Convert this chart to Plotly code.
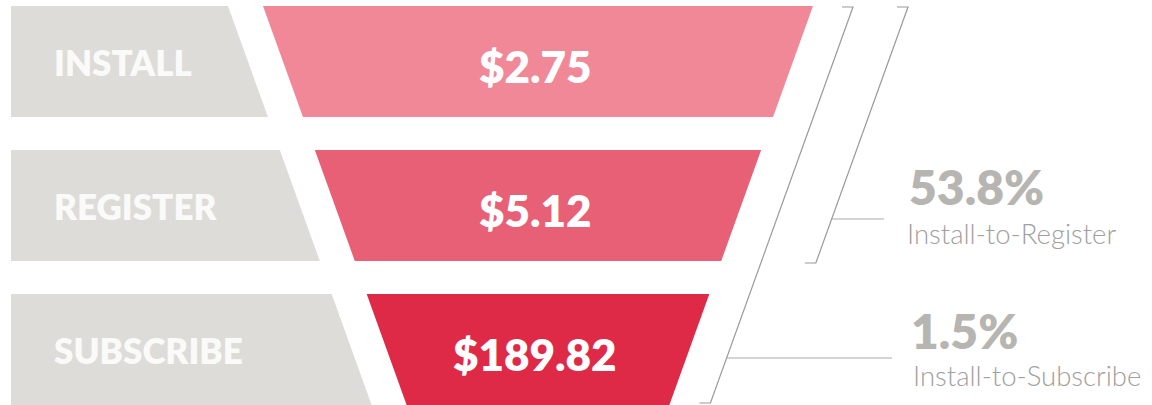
import plotly.graph_objects as go

# ---- data ----
stages = ["INSTALL", "REGISTER", "SUBSCRIBE"]
cost_per_action = [2.75, 5.12, 189.82]
conversion_names = ["Install-to-Register", "Install-to-Subscribe"]
conversion_rates = [53.8, 1.5]

# ---- style / geometry ----
W, H = 1152, 405
stage_colors = ["#F08898", "#E86075", "#DF2A47"]
label_bg = "#DEDCD9"
bracket_color = "#9A9A9A"
pct_color = "#B7B5B2"
desc_color = "#A0A0A0"
FONT = "Lato"

ROW_Y0 = 6
ROW_PITCH = 144
ROW_H = 111
SLOPE = 0.36          # horizontal shift per pixel of height
LABEL_LEFT = 11
LABEL_RIGHT0 = 228
FUNNEL_LEFT0 = 263
FUNNEL_RIGHT0 = 813

fig = go.Figure()


def edge(x0, y, sign):
    return x0 + sign * SLOPE * (y - ROW_Y0)


annotations = []
for i, (stage, cost, col) in enumerate(zip(stages, cost_per_action, stage_colors)):
    top = ROW_Y0 + i * ROW_PITCH
    bot = top + ROW_H
    # grey label box with slanted right edge
    fig.add_trace(go.Scatter(
        x=[LABEL_LEFT, edge(LABEL_RIGHT0, top, 1), edge(LABEL_RIGHT0, bot, 1), LABEL_LEFT, LABEL_LEFT],
        y=[top, top, bot, bot, top],
        fill="toself", fillcolor=label_bg, mode="lines", line=dict(width=0),
        hoverinfo="skip", showlegend=False))
    # funnel trapezoid
    fig.add_trace(go.Scatter(
        x=[edge(FUNNEL_LEFT0, top, 1), edge(FUNNEL_RIGHT0, top, -1),
           edge(FUNNEL_RIGHT0, bot, -1), edge(FUNNEL_LEFT0, bot, 1), edge(FUNNEL_LEFT0, top, 1)],
        y=[top, top, bot, bot, top],
        fill="toself", fillcolor=col, mode="lines", line=dict(width=0),
        hoverinfo="skip", showlegend=False))
    mid = top + ROW_H / 2
    annotations.append(dict(
        x=52, y=mid, xref="x", yref="y", xanchor="left", yanchor="middle",
        text=stage, showarrow=False,
        font=dict(family=FONT, size=35, color="#FAFAF8", weight=800)))
    cx = (edge(FUNNEL_LEFT0, mid, 1) + edge(FUNNEL_RIGHT0, mid, -1)) / 2
    annotations.append(dict(
        x=cx - 3, y=mid + 4, xref="x", yref="y", xanchor="center", yanchor="middle",
        text=f"${cost:,.2f}", showarrow=False,
        font=dict(family=FONT, size=44, color="white", weight=800)))

# ---- brackets ----
BR_TOP = 7
BR_SLOPE = 0.36
brackets = [
    dict(x_top=908, y_bot=263, y_tick=219, x_tick_end=884, pct_y=186, desc_y=233, text_x=907, desc_x=905),
    dict(x_top=853, y_bot=403, y_tick=358, x_tick_end=892, pct_y=330, desc_y=375, text_x=909, desc_x=911),
]
for b, name, rate in zip(brackets, conversion_names, conversion_rates):
    xb = b["x_top"] - BR_SLOPE * (b["y_bot"] - BR_TOP)
    fig.add_trace(go.Scatter(
        x=[b["x_top"] - 11, b["x_top"], xb, xb - 11],
        y=[BR_TOP, BR_TOP, b["y_bot"], b["y_bot"]],
        mode="lines", line=dict(color=bracket_color, width=1.2),
        hoverinfo="skip", showlegend=False))
    xt = b["x_top"] - BR_SLOPE * (b["y_tick"] - BR_TOP)
    fig.add_trace(go.Scatter(
        x=[xt, b["x_tick_end"]], y=[b["y_tick"], b["y_tick"]],
        mode="lines", line=dict(color="#AAAAAA", width=1.2),
        hoverinfo="skip", showlegend=False))
    annotations.append(dict(
        x=b["text_x"], y=b["pct_y"], xref="x", yref="y", xanchor="left", yanchor="middle",
        text=f"{rate:.1f}%", showarrow=False,
        font=dict(family=FONT, size=48, color=pct_color, weight=800)))
    annotations.append(dict(
        x=b["desc_x"], y=b["desc_y"], xref="x", yref="y", xanchor="left", yanchor="middle",
        text=name, showarrow=False,
        font=dict(family=FONT, size=27.5, color=desc_color, weight=300)))

fig.update_layout(
    width=W, height=H,
    margin=dict(l=0, r=0, t=0, b=0),
    paper_bgcolor="white", plot_bgcolor="white",
    xaxis=dict(range=[0, W], visible=False, fixedrange=True),
    yaxis=dict(range=[H, 0], visible=False, fixedrange=True),
    annotations=annotations,
    showlegend=False,
)
fig.write_html("out.html", config={"displayModeBar": False},
               post_script="document.body.style.margin='0';document.body.style.overflow='hidden';")
